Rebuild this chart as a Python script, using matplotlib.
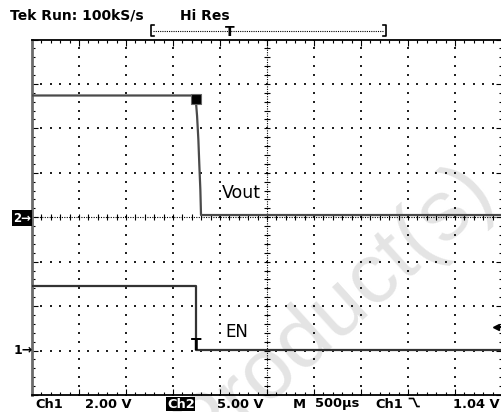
import numpy as np
import matplotlib
matplotlib.use('Agg')
import matplotlib.pyplot as plt
from matplotlib.lines import Line2D

# scope settings
CH1_VDIV = 2.0      # V/div
CH2_VDIV = 5.0      # V/div
TIME_DIV = 500.0    # us/div
TRIG_LEVEL = 1.04   # V on Ch1
TRIG_POS = -1.51    # trigger point, div from screen centre
CH1_OFFSET = -3.0   # ground marker, div
CH2_OFFSET = 0.0

# traces, time in us relative to the trigger
vout_t = [-1800, 0, 2, 11, 25, 35, 46, 53, 3300]
vout_v = [13.7, 13.7, 12.6, 11.4, 8.7, 5.9, 3.1, 0.25, 0.25]
en_t = [-1800, 0, 0, 3300]
en_v = [2.92, 2.92, 0.02, 0.02]
cursor_t = [0]
cursor_v = [13.3]

header = ['Tek Run: 100kS/s', 'Hi Res']
watermark = 'Product(s)'

W, H = 502, 412


def fx(x):
    return x / W


def fy(y):
    return 1 - y / H


def to_x(t):
    return TRIG_POS + np.asarray(t) / TIME_DIV


def ch1_y(v):
    return CH1_OFFSET + np.asarray(v) / CH1_VDIV


def ch2_y(v):
    return CH2_OFFSET + np.asarray(v) / CH2_VDIV


fig = plt.figure(figsize=(W / 100, H / 100), dpi=100)
fig.patch.set_facecolor('white')
ax = fig.add_axes([fx(32), fy(395), (W - 32) / W, (395 - 39.5) / H])
ax.set_facecolor('none')
ax.set_xlim(-5, 5)
ax.set_ylim(-4, 4)

# watermark behind everything
fig.text(fx(334), fy(310), watermark, rotation=42, rotation_mode='anchor',
         ha='center', va='center', fontsize=62, family='Liberation Sans',
         color='#e4e4e4', zorder=-1)

# graticule
minor_x = np.arange(-5, 5.001, 0.2)
minor_y = np.arange(-4, 4.001, 0.2)
for gx in range(-4, 5):
    if gx == 0:
        continue
    ax.scatter(np.full(len(minor_y), gx), minor_y, s=0.7, marker='s',
               color='#222222', linewidths=0, zorder=1)
for gy in range(-3, 4):
    if gy == 0:
        continue
    ax.scatter(minor_x, np.full(len(minor_x), gy), s=0.7, marker='s',
               color='#222222', linewidths=0, zorder=1)

ax.axhline(0, color='k', lw=0.8, ls=(0, (1, 1.2)), zorder=1)
ax.axvline(0, color='k', lw=0.8, ls=(0, (1, 1.2)), zorder=1)
ax.plot(minor_x, np.zeros(len(minor_x)), ls='none', marker='|', ms=5,
        mew=0.8, color='k', zorder=1)
ax.plot(np.zeros(len(minor_y)), minor_y, ls='none', marker='_', ms=5,
        mew=0.8, color='k', zorder=1)

ax.set_xticks(np.arange(-5, 6, 1))
ax.set_xticks(minor_x, minor=True)
ax.set_yticks(np.arange(-4, 5, 1))
ax.set_yticks(minor_y, minor=True)
ax.tick_params(which='both', direction='in', top=True, right=True,
               labelbottom=False, labelleft=False, color='k', width=0.8)
ax.tick_params(which='major', length=4)
ax.tick_params(which='minor', length=2.5)
ax.spines['left'].set_color('#6b6b6b')
ax.spines['left'].set_linewidth(2)
ax.spines['top'].set_linewidth(1.3)
ax.spines['bottom'].set_linewidth(1.3)
ax.spines['right'].set_visible(False)

# traces
ax.plot(to_x(vout_t), ch2_y(vout_v), color='#4a4a4a', lw=1.6, zorder=4)
ax.plot(to_x(en_t), ch1_y(en_v), color='#333333', lw=1.6, zorder=4)
ax.plot(to_x(cursor_t), ch2_y(cursor_v), ls='none', marker='s', ms=7.5,
        color='k', mec='#666666', mew=0.8, zorder=5)

ax.text(-0.97, 0.55, 'Vout', ha='left', va='center', fontsize=12.5, zorder=6)
ax.text(-0.89, -2.59, 'EN', ha='left', va='center', fontsize=12, zorder=6)
ax.text(to_x(0), ch1_y(en_v[-1]), 'T', ha='center', va='baseline',
        fontsize=11, fontweight='bold', zorder=6)

# trigger level marker on the right edge
trig_y = ch1_y(TRIG_LEVEL)
ax.plot([4.88], [trig_y], ls='none', marker='<', ms=5, color='k',
        clip_on=False, zorder=6)
ax.plot([4.9, 5.0], [trig_y, trig_y], color='k', lw=1.5, clip_on=False,
        zorder=6)

# ground markers
fig.text(fx(13), fy(218), '2\u2192', ha='left', va='center', fontsize=8.5,
         fontweight='bold', color='white',
         bbox=dict(boxstyle='square,pad=0.1', fc='black', ec='none'))
fig.text(fx(14), fy(351), '1\u2192', ha='left', va='center', fontsize=9,
         fontweight='bold', color='black')

# header
fig.text(fx(10), fy(19.5), header[0], ha='left', va='baseline', fontsize=10,
         fontweight='bold')
fig.text(fx(180), fy(19.5), header[1], ha='left', va='baseline', fontsize=10,
         fontweight='bold')
fig.add_artist(Line2D([fx(154), fx(151), fx(151), fx(154)],
                      [fy(25), fy(25), fy(36), fy(36)], color='k', lw=1.2))
fig.add_artist(Line2D([fx(383), fx(386), fx(386), fx(383)],
                      [fy(25), fy(25), fy(36), fy(36)], color='k', lw=1.2))
fig.add_artist(Line2D([fx(153), fx(384)], [fy(30.5), fy(30.5)], color='k',
                      lw=0.8, ls=(0, (1, 1))))
fig.text(fx(230), fy(35.5), 'T', ha='center', va='baseline', fontsize=10,
         fontweight='bold')

# status line
sy = fy(407.5)
status = [(35, 'Ch1'), (85, f'{CH1_VDIV:.2f} V'), (217, f'{CH2_VDIV:.2f} V'),
          (293, 'M'), (315, f'{TIME_DIV:.0f}\u00b5s'), (375, 'Ch1'),
          (453, f'{TRIG_LEVEL:.2f} V')]
for x, s in status:
    fig.text(fx(x), sy, s, ha='left', va='baseline', fontsize=9.4,
             fontweight='bold')
fig.text(fx(167), sy, 'Ch2', ha='left', va='baseline', fontsize=9.4,
         fontweight='bold', color='white',
         bbox=dict(boxstyle='square,pad=0.05', fc='black', ec='none'))
fig.add_artist(Line2D([fx(409.5), fx(413.5), fx(417), fx(419)],
                      [fy(398.5), fy(398.5), fy(406.5), fy(406.5)],
                      color='k', lw=1.2))

fig.savefig('out.png', dpi=100)
